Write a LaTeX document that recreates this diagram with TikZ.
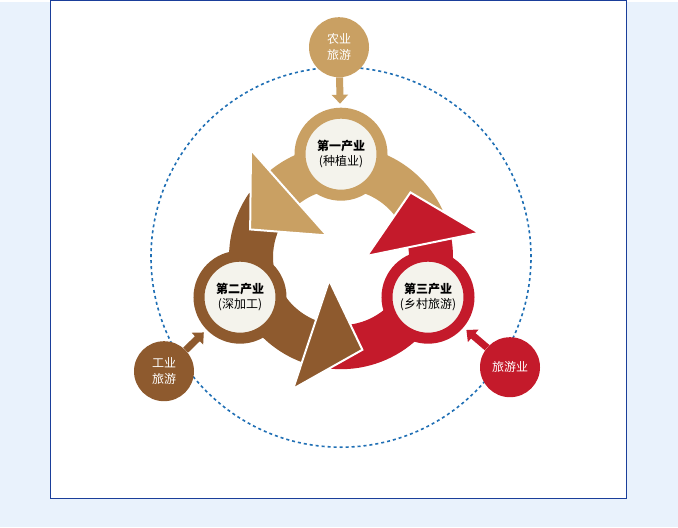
\documentclass[tikz,border=0pt]{standalone}
\usepackage{fontspec}
\newfontfamily\cjk{Noto Sans CJK SC}
\usetikzlibrary{calc, positioning, arrows.meta}
\definecolor{tanC}{HTML}{C9A063}
\definecolor{brownC}{HTML}{8E5A2E}
\definecolor{redC}{HTML}{C41A2B}
\definecolor{dashC}{HTML}{1F6FB5}
\definecolor{paleC}{HTML}{F4F3EC}
\definecolor{backC}{HTML}{E9F2FC}
\definecolor{frameC}{HTML}{1A3E9A}
\tikzset{
    bignode/.style = {circle, draw=#1, line width=11pt, fill=paleC, minimum size=82pt, inner sep=0pt,
      font=\cjk\fontsize{12}{15}\selectfont, align=center},
    smallnode/.style = {circle, fill=#1, minimum size=60pt, inner sep=0pt, text=white,
      font=\cjk\fontsize{12}{16}\selectfont, align=center},
    feed/.style = {#1, line width=7pt, -{Triangle[length=9pt,width=16pt]}, shorten >=4pt}
}
% ring band and head, around (c)
\newcommand{\band}[3]{\fill[#1] ($(c)+(#2:68)$) arc[start angle=#2, end angle=#3, radius=68]
  -- ($(c)+(#3:112)$) arc[start angle=#3, end angle=#2, radius=112] -- cycle;}
\newcommand{\head}[2]{\filldraw[#1, draw=white, line width=2pt] ($(c)+(#2:140)$) -- ($(c)+(#2+33:95)$)
  -- ($(c)+(#2-7:26)$) -- cycle;}
\begin{document}
\begin{tikzpicture}[x=1pt, y=1pt]
    \fill[backC] (0,0) rectangle (678,-525);
    \filldraw[fill=white, draw=frameC] (50,2) rectangle (626,-496);
    \useasboundingbox (0,0) rectangle (678,-525);
    \coordinate (c) at (341,-255);
    \draw[dashC, line width=1.6pt, dash pattern=on 3pt off 3pt] (c) circle[radius=190];

    \band{tanC}{25}{131}
    \band{brownC}{145}{251}
    \band{redC}{265}{371}
    \head{tanC}{130}
    \head{brownC}{250}
    \head{redC}{10}

    \node [bignode=tanC, name=first] at (341,-152) {\textbf{第一产业}\\(种植业)};
    \node [bignode=brownC, name=second] at (240,-295) {\textbf{第二产业}\\(深加工)};
    \node [bignode=redC, name=third] at (428,-295) {\textbf{第三产业}\\(乡村旅游)};

    \node [smallnode=tanC, name=agri] at (339,-45) {农业\\旅游};
    \node [smallnode=brownC, name=indu] at (164,-369) {工业\\旅游};
    \node [smallnode=redC, name=tour] at (510,-365) {旅游业};

    \draw [feed=tanC] (agri) -- (first);
    \draw [feed=brownC] (indu) -- (second);
    \draw [feed=redC] (tour) -- (third);
\end{tikzpicture}
\end{document}
